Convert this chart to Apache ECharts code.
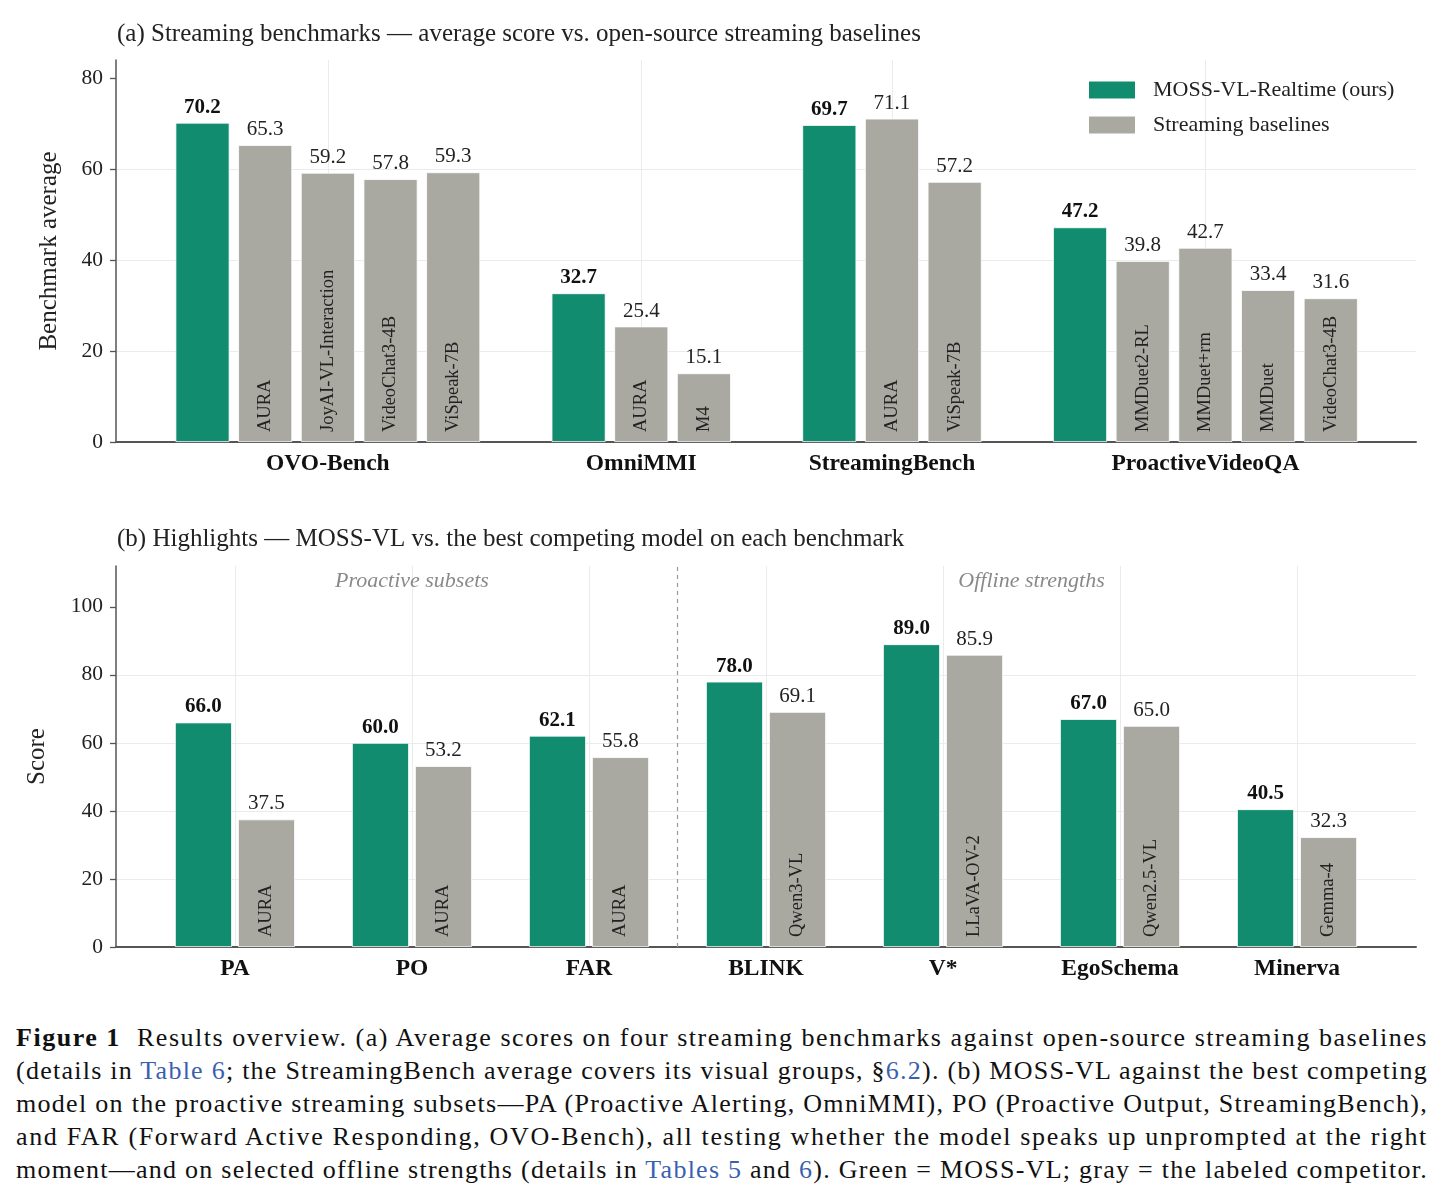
<!DOCTYPE html>
<html>
<head>
<meta charset="utf-8">
<script src="https://cdn.jsdelivr.net/npm/echarts@6.0.0/dist/echarts.min.js"></script>
<style>
  html, body { margin: 0; padding: 0; background: #fff; }
  #chart { position: absolute; left: 0; top: 0; width: 1446px; height: 1000px; }
  #caption { position: absolute; left: 16px; top: 1021px; width: 1412px;
    font-family: "Liberation Serif", serif; font-size: 26px; line-height: 33px; color: #111; }
  #caption div { white-space: nowrap; }
  #caption a { color: #3a5fb0; text-decoration: none; }
</style>
</head>
<body>
<div id="chart"></div>
<div id="caption">
  <div><span><b>Figure 1</b>&nbsp; Results overview. (a) Average scores on four streaming benchmarks against open-source streaming baselines</span></div>
  <div><span>(details in <a>Table 6</a>; the StreamingBench average covers its visual groups, §<a>6.2</a>). (b) MOSS-VL against the best competing</span></div>
  <div><span>model on the proactive streaming subsets—PA (Proactive Alerting, OmniMMI), PO (Proactive Output, StreamingBench),</span></div>
  <div><span>and FAR (Forward Active Responding, OVO-Bench), all testing whether the model speaks up unprompted at the right</span></div>
  <div><span>moment—and on selected offline strengths (details in <a>Tables 5</a> and <a>6</a>). Green = MOSS-VL; gray = the labeled competitor.</span></div>
</div>
<script>
// ---------- Panel (a) data ----------
const groupsA = ['OVO-Bench', 'OmniMMI', 'StreamingBench', 'ProactiveVideoQA'];
const mossA = [70.2, 32.7, 69.7, 47.2];
const baselineNamesA = [
  ['AURA', 'JoyAI-VL-Interaction', 'VideoChat3-4B', 'ViSpeak-7B'],
  ['AURA', 'M4'],
  ['AURA', 'ViSpeak-7B'],
  ['MMDuet2-RL', 'MMDuet+rm', 'MMDuet', 'VideoChat3-4B']
];
const baselineValsA = [
  [65.3, 59.2, 57.8, 59.3],
  [25.4, 15.1],
  [71.1, 57.2],
  [39.8, 42.7, 33.4, 31.6]
];
const yTicksA = [0, 20, 40, 60, 80];

// ---------- Panel (b) data ----------
const catsB = ['PA', 'PO', 'FAR', 'BLINK', 'V*', 'EgoSchema', 'Minerva'];
const mossB = [66.0, 60.0, 62.1, 78.0, 89.0, 67.0, 40.5];
const compNamesB = ['AURA', 'AURA', 'AURA', 'Qwen3-VL', 'LLaVA-OV-2', 'Qwen2.5-VL', 'Gemma-4'];
const compValsB = [37.5, 53.2, 55.8, 69.1, 85.9, 65.0, 32.3];
const sectionNamesB = ['Proactive subsets', 'Offline strengths'];
const sectionRangesB = [[0, 2], [3, 6]];
const yTicksB = [0, 20, 40, 60, 80, 100];

// ---------- build positions ----------
const GREEN = '#118c6e', GRAY = '#a9a9a1';
const FONT = '"Liberation Serif", "Times New Roman", serif';
const greenA = [], grayA = [], centersA = [];
let pos = 0;
groupsA.forEach((g, i) => {
  const n = 1 + baselineValsA[i].length;
  greenA.push([pos, mossA[i]]);
  baselineValsA[i].forEach((v, j) => grayA.push([pos + 1 + j, v, baselineNamesA[i][j]]));
  centersA.push(pos + (n - 1) / 2);
  pos += n + 1;
});
const OFF = 0.178;
const greenB = mossB.map((v, i) => [i - OFF, v]);
const grayB = compValsB.map((v, i) => [i + OFF, v, compNamesB[i]]);
const centersB = catsB.map((c, i) => i);
const sectionPts = sectionNamesB.map((s, k) => [(sectionRangesB[k][0] + sectionRangesB[k][1]) / 2, 107.6, s]);
const sepX = (sectionRangesB[0][1] + sectionRangesB[1][0]) / 2;

const fmt1 = p => p.value[1].toFixed(1);
const gridLine = { show: true, lineStyle: { color: '#ebebeb', width: 1 } };

function xAxisFor(idx, min, max, centers, names) {
  return {
    type: 'value', gridIndex: idx, min: min, max: max,
    axisLine: { show: true, onZero: false, lineStyle: { color: '#555', width: 2 } },
    axisTick: { show: false, customValues: centers },
    splitLine: Object.assign({ customValues: centers }, gridLine),
    axisLabel: {
      customValues: centers, margin: 10,
      formatter: v => { const k = centers.indexOf(v); return k >= 0 ? names[k] : ''; },
      fontFamily: FONT, fontSize: 23.5, fontWeight: 'bold', color: '#111'
    }
  };
}
function yAxisFor(idx, max, ticks, name, gap) {
  return {
    type: 'value', gridIndex: idx, min: 0, max: max,
    name: name, nameLocation: 'middle', nameGap: gap,
    nameTextStyle: { fontFamily: FONT, fontSize: 25, color: '#222' },
    axisLine: { show: true, onZero: false, lineStyle: { color: '#555', width: 1.5 } },
    axisTick: { show: true, length: 6, lineStyle: { color: '#555', width: 1.3 }, customValues: ticks },
    splitLine: Object.assign({ customValues: ticks, showMaxLine: false }, gridLine),
    axisLabel: { customValues: ticks, margin: 13, fontFamily: FONT, fontSize: 21.5, color: '#222' }
  };
}
const valueLabel = (bold) => ({
  show: true, position: 'top', distance: 5, formatter: fmt1,
  fontFamily: FONT, fontSize: 21, fontWeight: bold ? 'bold' : 'normal', color: bold ? '#111' : '#222'
});
const nameLabel = {
  show: true, position: 'insideBottom', rotate: 90, align: 'left', verticalAlign: 'middle',
  distance: 10, formatter: p => p.data[2], fontFamily: FONT, fontSize: 18.5, color: '#222'
};

const chart = echarts.init(document.getElementById('chart'), null, { renderer: 'canvas' });
chart.setOption({
  animation: false,
  backgroundColor: '#fff',
  title: [
    { text: '(a) Streaming benchmarks — average score vs. open-source streaming baselines',
      left: 117, top: 22, padding: 0,
      textStyle: { fontFamily: FONT, fontSize: 25, fontWeight: 'normal', color: '#222' } },
    { text: '(b) Highlights — MOSS-VL vs. the best competing model on each benchmark',
      left: 117, top: 527, padding: 0,
      textStyle: { fontFamily: FONT, fontSize: 25, fontWeight: 'normal', color: '#222' } }
  ],
  legend: {
    data: ['MOSS-VL-Realtime (ours)', 'Streaming baselines'],
    orient: 'vertical', left: 1087, top: 79, padding: 0,
    itemWidth: 48, itemHeight: 19, itemGap: 13, icon: 'rect',
    textStyle: { fontFamily: FONT, fontSize: 22, color: '#222', padding: [2, 0, 0, 12] }
  },
  grid: [
    { left: 116, top: 60, width: 1300, height: 382 },
    { left: 116, top: 566, width: 1300, height: 381 }
  ],
  xAxis: [
    xAxisFor(0, -1.38, 19.36, centersA, groupsA),
    xAxisFor(1, -0.672, 6.672, centersB, catsB)
  ],
  yAxis: [
    yAxisFor(0, 84, yTicksA, 'Benchmark average', 54),
    yAxisFor(1, 112, yTicksB, 'Score', 66)
  ],
  series: [
    { name: 'MOSS-VL-Realtime (ours)', type: 'bar', xAxisIndex: 0, yAxisIndex: 0,
      data: greenA, barWidth: 54, barGap: '-100%',
      itemStyle: { color: GREEN, borderColor: '#fff', borderWidth: 0.8 }, label: valueLabel(true) },
    { name: 'Streaming baselines', type: 'bar', xAxisIndex: 0, yAxisIndex: 0,
      data: grayA, barWidth: 54, barGap: '-100%',
      itemStyle: { color: GRAY, borderColor: '#fff', borderWidth: 0.8 }, label: valueLabel(false) },
    { name: 'namesA', type: 'bar', xAxisIndex: 0, yAxisIndex: 0,
      data: grayA, barWidth: 54, barGap: '-100%', silent: true,
      itemStyle: { color: 'rgba(0,0,0,0)' }, label: nameLabel },

    { name: 'MOSS-VL', type: 'bar', xAxisIndex: 1, yAxisIndex: 1,
      data: greenB, barWidth: 57, barGap: '-100%',
      itemStyle: { color: GREEN, borderColor: '#fff', borderWidth: 0.8 }, label: valueLabel(true),
      markLine: { silent: true, symbol: 'none', label: { show: false },
        lineStyle: { type: [4, 4], color: '#999', width: 1.2 },
        data: [{ xAxis: sepX }] } },
    { name: 'Competitor', type: 'bar', xAxisIndex: 1, yAxisIndex: 1,
      data: grayB, barWidth: 57, barGap: '-100%',
      itemStyle: { color: GRAY, borderColor: '#fff', borderWidth: 0.8 }, label: valueLabel(false) },
    { name: 'namesB', type: 'bar', xAxisIndex: 1, yAxisIndex: 1,
      data: grayB, barWidth: 57, barGap: '-100%', silent: true,
      itemStyle: { color: 'rgba(0,0,0,0)' }, label: nameLabel },
    { name: 'sections', type: 'scatter', xAxisIndex: 1, yAxisIndex: 1,
      data: sectionPts, symbolSize: 1, itemStyle: { color: 'rgba(0,0,0,0)' }, silent: true,
      label: { show: true, position: 'inside', formatter: p => p.data[2],
        fontFamily: FONT, fontSize: 22, fontStyle: 'italic', color: '#6b6b6b' } }
  ]
});

// fit each caption line to the full caption width
document.querySelectorAll('#caption span').forEach(s => {
  const w = s.getBoundingClientRect().width;
  const n = s.textContent.length;
  s.style.letterSpacing = ((1412 - w) / n) + 'px';
});
</script>
</body>
</html>
